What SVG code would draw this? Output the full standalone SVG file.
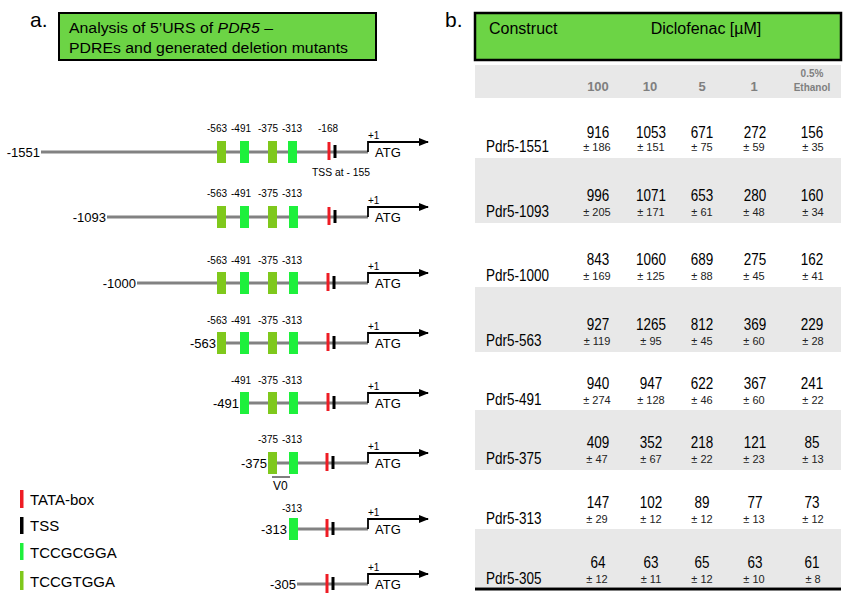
<svg xmlns="http://www.w3.org/2000/svg" width="851" height="602" viewBox="0 0 851 602">
<defs>
<style>
text{font-family:"Liberation Sans",Arial,sans-serif;fill:#000}
.big{font-size:21px}
.ttl{font-size:15.5px}
.rl{font-size:13px;text-anchor:end}
.pos{font-size:11px;text-anchor:middle}
.p1{font-size:10px}
.atg{font-size:13px}
.leg{font-size:15px}
.dna{stroke:#828282;stroke-width:3}
.yg{fill:#7fc81c}
.gr{fill:#1ef03c}
.tata{stroke:#ee1c24;stroke-width:3}
.tss{stroke:#000;stroke-width:3}
.arr{fill:none;stroke:#000;stroke-width:1.8}
.hd{font-size:16px}
.ch{font-size:13px;font-weight:bold;fill:#7f7f7f;text-anchor:middle}
.ch2{font-size:10px;font-weight:bold;fill:#7f7f7f;text-anchor:middle}
.lab{font-size:13.5px;transform-box:fill-box;transform-origin:50% 81%;transform:scaleY(1.22)}
.v{font-size:13.5px;text-anchor:middle;transform-box:fill-box;transform-origin:50% 81%;transform:scaleY(1.22)}
.e{font-size:11px;text-anchor:middle;fill:#222}
.band{fill:#e8e8e8}
</style>
<marker id="ah" viewBox="0 0 10 10" refX="9" refY="5" markerWidth="10" markerHeight="10" markerUnits="userSpaceOnUse" orient="auto"><path d="M0,1 L10,5 L0,9 z" fill="#000"/></marker>
</defs>
<rect width="851" height="602" fill="#fff"/>

<g id="panel-a-title">
<text class="big" x="30" y="27">a.</text>
<rect x="59" y="13" width="317" height="47" fill="#6cd445" stroke="#000" stroke-width="2"/>
<text class="ttl" x="69" y="33" textLength="204" lengthAdjust="spacingAndGlyphs">Analysis of 5’URS of <tspan font-style="italic">PDR5</tspan> –</text>
<text class="ttl" x="69" y="53" textLength="279" lengthAdjust="spacingAndGlyphs">PDREs and generated deletion mutants</text>
</g>

<g id="c1551">
<line class="dna" x1="41" y1="152" x2="368" y2="152"/>
<text class="rl" x="40" y="157">-1551</text>
<rect class="yg" x="217" y="141" width="9" height="22"/>
<rect class="gr" x="240" y="141" width="9" height="22"/>
<rect class="yg" x="268" y="141" width="9" height="22"/>
<rect class="gr" x="288" y="141" width="9" height="22"/>
<line class="tata" x1="329" y1="142" x2="329" y2="160"/>
<line class="tss" x1="335" y1="145" x2="335" y2="158"/>
<text class="pos" x="217" y="132" textLength="20" lengthAdjust="spacingAndGlyphs">-563</text>
<text class="pos" x="241" y="132" textLength="20" lengthAdjust="spacingAndGlyphs">-491</text>
<text class="pos" x="268" y="132" textLength="20" lengthAdjust="spacingAndGlyphs">-375</text>
<text class="pos" x="292" y="132" textLength="20" lengthAdjust="spacingAndGlyphs">-313</text>
<text class="pos" x="328" y="132" textLength="20" lengthAdjust="spacingAndGlyphs">-168</text>
<text class="pos" x="341" y="176" textLength="58" lengthAdjust="spacingAndGlyphs">TSS at - 155</text>
<path class="arr" d="M368,152 V142 H428" marker-end="url(#ah)"/>
<text class="p1" x="368" y="139">+1</text>
<text class="atg" x="375" y="157">ATG</text>
</g>

<g id="c1093">
<line class="dna" x1="107" y1="217" x2="368" y2="217"/>
<text class="rl" x="106" y="222">-1093</text>
<rect class="yg" x="217" y="206" width="9" height="22"/>
<rect class="gr" x="240" y="206" width="9" height="22"/>
<rect class="yg" x="268" y="206" width="9" height="22"/>
<rect class="gr" x="289" y="206" width="9" height="22"/>
<line class="tata" x1="329" y1="207" x2="329" y2="225"/>
<line class="tss" x1="335" y1="210" x2="335" y2="223"/>
<text class="pos" x="217" y="197" textLength="20" lengthAdjust="spacingAndGlyphs">-563</text>
<text class="pos" x="241" y="197" textLength="20" lengthAdjust="spacingAndGlyphs">-491</text>
<text class="pos" x="268" y="197" textLength="20" lengthAdjust="spacingAndGlyphs">-375</text>
<text class="pos" x="292" y="197" textLength="20" lengthAdjust="spacingAndGlyphs">-313</text>
<path class="arr" d="M368,217 V207 H428" marker-end="url(#ah)"/>
<text class="p1" x="368" y="204">+1</text>
<text class="atg" x="375" y="222">ATG</text>
</g>

<g id="c1000">
<line class="dna" x1="137" y1="283" x2="368" y2="283"/>
<text class="rl" x="136" y="288">-1000</text>
<rect class="yg" x="217" y="272" width="9" height="22"/>
<rect class="gr" x="240" y="272" width="9" height="22"/>
<rect class="yg" x="268" y="272" width="9" height="22"/>
<rect class="gr" x="289" y="272" width="9" height="22"/>
<line class="tata" x1="328" y1="273" x2="328" y2="291"/>
<line class="tss" x1="334" y1="276" x2="334" y2="289"/>
<text class="pos" x="217" y="264" textLength="20" lengthAdjust="spacingAndGlyphs">-563</text>
<text class="pos" x="241" y="264" textLength="20" lengthAdjust="spacingAndGlyphs">-491</text>
<text class="pos" x="268" y="264" textLength="20" lengthAdjust="spacingAndGlyphs">-375</text>
<text class="pos" x="292" y="264" textLength="20" lengthAdjust="spacingAndGlyphs">-313</text>
<path class="arr" d="M368,283 V273 H428" marker-end="url(#ah)"/>
<text class="p1" x="368" y="270">+1</text>
<text class="atg" x="375" y="288">ATG</text>
</g>

<g id="c563">
<line class="dna" x1="217" y1="343" x2="368" y2="343"/>
<text class="rl" x="216" y="348">-563</text>
<rect class="yg" x="217" y="332" width="9" height="22"/>
<rect class="gr" x="240" y="332" width="9" height="22"/>
<rect class="yg" x="268" y="332" width="9" height="22"/>
<rect class="gr" x="289" y="332" width="9" height="22"/>
<line class="tata" x1="328" y1="333" x2="328" y2="351"/>
<line class="tss" x1="334" y1="336" x2="334" y2="349"/>
<text class="pos" x="217" y="324" textLength="20" lengthAdjust="spacingAndGlyphs">-563</text>
<text class="pos" x="241" y="324" textLength="20" lengthAdjust="spacingAndGlyphs">-491</text>
<text class="pos" x="268" y="324" textLength="20" lengthAdjust="spacingAndGlyphs">-375</text>
<text class="pos" x="292" y="324" textLength="20" lengthAdjust="spacingAndGlyphs">-313</text>
<path class="arr" d="M368,343 V333 H428" marker-end="url(#ah)"/>
<text class="p1" x="368" y="330">+1</text>
<text class="atg" x="375" y="348">ATG</text>
</g>

<g id="c491">
<line class="dna" x1="240" y1="403" x2="368" y2="403"/>
<text class="rl" x="239" y="408">-491</text>
<rect class="gr" x="240" y="392" width="9" height="22"/>
<rect class="yg" x="268" y="392" width="9" height="22"/>
<rect class="gr" x="289" y="392" width="9" height="22"/>
<line class="tata" x1="328" y1="393" x2="328" y2="411"/>
<line class="tss" x1="334" y1="396" x2="334" y2="409"/>
<text class="pos" x="241" y="384" textLength="20" lengthAdjust="spacingAndGlyphs">-491</text>
<text class="pos" x="268" y="384" textLength="20" lengthAdjust="spacingAndGlyphs">-375</text>
<text class="pos" x="292" y="384" textLength="20" lengthAdjust="spacingAndGlyphs">-313</text>
<path class="arr" d="M368,403 V393 H428" marker-end="url(#ah)"/>
<text class="p1" x="368" y="390">+1</text>
<text class="atg" x="375" y="408">ATG</text>
</g>

<g id="c375">
<line class="dna" x1="268" y1="463" x2="368" y2="463"/>
<text class="rl" x="267" y="468">-375</text>
<rect class="yg" x="268" y="452" width="9" height="22"/>
<rect class="gr" x="289" y="452" width="9" height="22"/>
<line class="tata" x1="327" y1="453" x2="327" y2="471"/>
<line class="tss" x1="333" y1="456" x2="333" y2="469"/>
<text class="pos" x="268" y="443" textLength="20" lengthAdjust="spacingAndGlyphs">-375</text>
<text class="pos" x="292" y="443" textLength="20" lengthAdjust="spacingAndGlyphs">-313</text>
<line x1="272" y1="477" x2="290" y2="477" stroke="#000" stroke-width="1"/>
<text x="273" y="490" font-size="12">V0</text>
<path class="arr" d="M368,463 V453 H428" marker-end="url(#ah)"/>
<text class="p1" x="368" y="450">+1</text>
<text class="atg" x="375" y="468">ATG</text>
</g>

<g id="c313">
<line class="dna" x1="289" y1="529" x2="368" y2="529"/>
<text class="rl" x="287" y="534">-313</text>
<rect class="gr" x="289" y="518" width="9" height="22"/>
<line class="tata" x1="327" y1="519" x2="327" y2="537"/>
<line class="tss" x1="333" y1="522" x2="333" y2="535"/>
<text class="pos" x="292" y="512" textLength="20" lengthAdjust="spacingAndGlyphs">-313</text>
<path class="arr" d="M368,529 V519 H428" marker-end="url(#ah)"/>
<text class="p1" x="368" y="516">+1</text>
<text class="atg" x="375" y="534">ATG</text>
</g>

<g id="c305">
<line class="dna" x1="297" y1="584" x2="368" y2="584"/>
<text class="rl" x="296" y="589">-305</text>
<line class="tata" x1="327" y1="574" x2="327" y2="593"/>
<line class="tss" x1="333" y1="577" x2="333" y2="590"/>
<path class="arr" d="M368,584 V574 H428" marker-end="url(#ah)"/>
<text class="p1" x="368" y="571">+1</text>
<text class="atg" x="375" y="589">ATG</text>
</g>

<g id="legend">
<rect x="20" y="490" width="3.5" height="18" fill="#ee1c24"/>
<text class="leg" x="30" y="505">TATA-box</text>
<rect x="20" y="517" width="3.5" height="17" fill="#000"/>
<text class="leg" x="30" y="531">TSS</text>
<rect x="20" y="543" width="3.5" height="17" fill="#1ef03c"/>
<text class="leg" x="30" y="558">TCCGCGGA</text>
<rect x="20" y="571" width="3.5" height="19" fill="#7fc81c"/>
<text class="leg" x="30" y="587">TCCGTGGA</text>
</g>

<g id="panel-b-table">
<text class="big" x="445" y="27">b.</text>
<rect x="475" y="13" width="366" height="47" fill="#6cd445" stroke="#000" stroke-width="2.5"/>
<text class="hd" x="489" y="34">Construct</text>
<text class="hd" x="706" y="34" text-anchor="middle">Diclofenac [µM]</text>
<rect class="band" x="475" y="65" width="366" height="33"/>
<text class="ch" x="598" y="91">100</text>
<text class="ch" x="650" y="91">10</text>
<text class="ch" x="702" y="91">5</text>
<text class="ch" x="754" y="91">1</text>
<text class="ch2" x="812" y="77">0.5%</text>
<text class="ch2" x="812" y="91">Ethanol</text>

<rect class="band" x="475" y="158" width="366" height="65"/>
<rect class="band" x="475" y="287" width="366" height="65"/>
<rect class="band" x="475" y="410" width="366" height="60"/>
<rect class="band" x="475" y="529" width="366" height="58"/>
<line x1="475" y1="589" x2="841" y2="589" stroke="#000" stroke-width="3"/>

<g id="r1551">
<text class="lab" x="486" y="152">Pdr5-1551</text>
<text class="v" x="598" y="138">916</text><text class="v" x="651" y="138">1053</text><text class="v" x="702" y="138">671</text><text class="v" x="755" y="138">272</text><text class="v" x="812" y="138">156</text>
<text class="e" x="597" y="151">± 186</text><text class="e" x="651" y="151">± 151</text><text class="e" x="702" y="151">± 75</text><text class="e" x="754" y="151">± 59</text><text class="e" x="813" y="151">± 35</text>
</g>
<g id="r1093">
<text class="lab" x="486" y="217">Pdr5-1093</text>
<text class="v" x="598" y="201">996</text><text class="v" x="651" y="201">1071</text><text class="v" x="702" y="201">653</text><text class="v" x="755" y="201">280</text><text class="v" x="812" y="201">160</text>
<text class="e" x="597" y="216">± 205</text><text class="e" x="651" y="216">± 171</text><text class="e" x="702" y="216">± 61</text><text class="e" x="754" y="216">± 48</text><text class="e" x="813" y="216">± 34</text>
</g>
<g id="r1000">
<text class="lab" x="486" y="281">Pdr5-1000</text>
<text class="v" x="598" y="265">843</text><text class="v" x="651" y="265">1060</text><text class="v" x="702" y="265">689</text><text class="v" x="755" y="265">275</text><text class="v" x="812" y="265">162</text>
<text class="e" x="597" y="280">± 169</text><text class="e" x="651" y="280">± 125</text><text class="e" x="702" y="280">± 88</text><text class="e" x="754" y="280">± 45</text><text class="e" x="813" y="280">± 41</text>
</g>
<g id="r563">
<text class="lab" x="486" y="346">Pdr5-563</text>
<text class="v" x="598" y="330">927</text><text class="v" x="651" y="330">1265</text><text class="v" x="702" y="330">812</text><text class="v" x="755" y="330">369</text><text class="v" x="812" y="330">229</text>
<text class="e" x="597" y="345">± 119</text><text class="e" x="651" y="345">± 95</text><text class="e" x="702" y="345">± 45</text><text class="e" x="754" y="345">± 60</text><text class="e" x="813" y="345">± 28</text>
</g>
<g id="r491">
<text class="lab" x="486" y="405">Pdr5-491</text>
<text class="v" x="598" y="389">940</text><text class="v" x="651" y="389">947</text><text class="v" x="702" y="389">622</text><text class="v" x="755" y="389">367</text><text class="v" x="812" y="389">241</text>
<text class="e" x="597" y="404">± 274</text><text class="e" x="651" y="404">± 128</text><text class="e" x="702" y="404">± 46</text><text class="e" x="754" y="404">± 60</text><text class="e" x="813" y="404">± 22</text>
</g>
<g id="r375">
<text class="lab" x="486" y="464">Pdr5-375</text>
<text class="v" x="598" y="448">409</text><text class="v" x="651" y="448">352</text><text class="v" x="702" y="448">218</text><text class="v" x="755" y="448">121</text><text class="v" x="812" y="448">85</text>
<text class="e" x="597" y="463">± 47</text><text class="e" x="651" y="463">± 67</text><text class="e" x="702" y="463">± 22</text><text class="e" x="754" y="463">± 23</text><text class="e" x="813" y="463">± 13</text>
</g>
<g id="r313">
<text class="lab" x="486" y="524">Pdr5-313</text>
<text class="v" x="598" y="508">147</text><text class="v" x="651" y="508">102</text><text class="v" x="702" y="508">89</text><text class="v" x="755" y="508">77</text><text class="v" x="812" y="508">73</text>
<text class="e" x="597" y="523">± 29</text><text class="e" x="651" y="523">± 12</text><text class="e" x="702" y="523">± 12</text><text class="e" x="754" y="523">± 13</text><text class="e" x="813" y="523">± 12</text>
</g>
<g id="r305">
<text class="lab" x="486" y="584">Pdr5-305</text>
<text class="v" x="598" y="568">64</text><text class="v" x="651" y="568">63</text><text class="v" x="702" y="568">65</text><text class="v" x="755" y="568">63</text><text class="v" x="812" y="568">61</text>
<text class="e" x="597" y="583">± 12</text><text class="e" x="651" y="583">± 11</text><text class="e" x="702" y="583">± 12</text><text class="e" x="754" y="583">± 10</text><text class="e" x="813" y="583">± 8</text>
</g>
</g>
</svg>
